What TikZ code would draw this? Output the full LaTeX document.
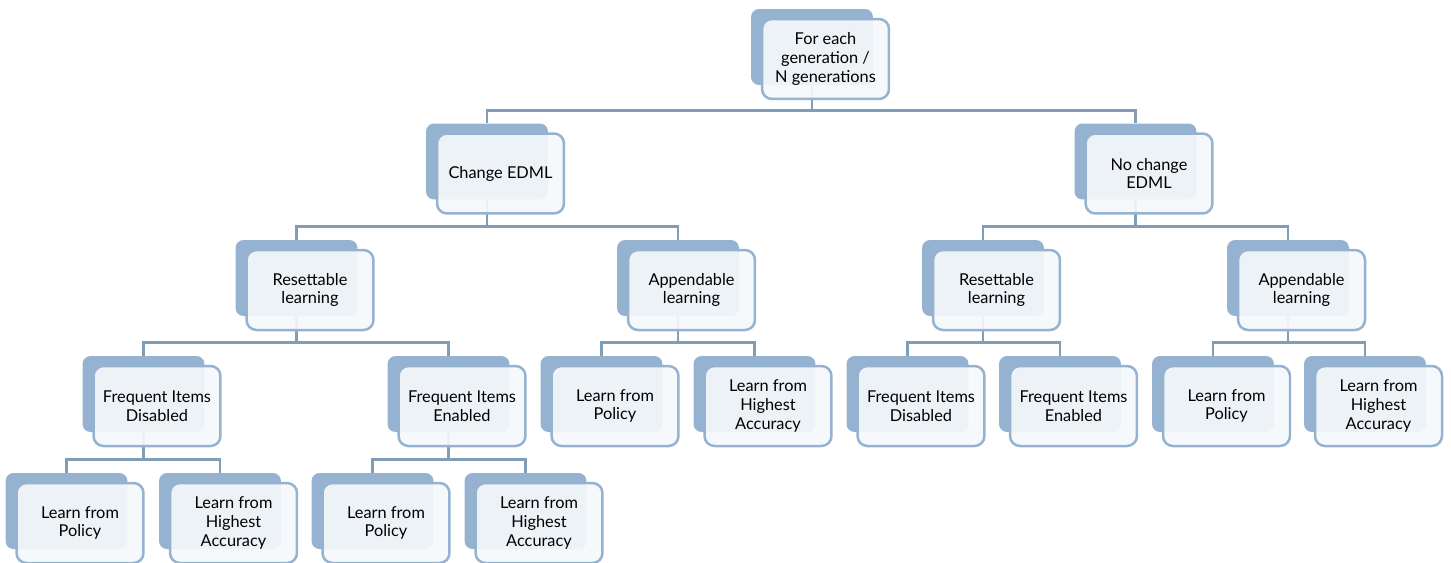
\documentclass[tikz,border=0pt]{standalone}
\usepackage{fontspec}
\setmainfont{Lato}
\pgfdeclarelayer{bg}
\pgfsetlayers{bg,main}
\definecolor{boxblue}{HTML}{95B3D1}
\definecolor{linkblue}{HTML}{819DB8}
\definecolor{paper}{HTML}{F5F8FB}
\tikzset{
  backbox/.style={fill=boxblue, draw=none, rounded corners=0.16cm,
    minimum width=2.44cm, minimum height=1.52cm, inner sep=0pt},
  frontbox/.style={draw=boxblue, line width=0.05cm, fill=paper,
    fill opacity=0.92, text opacity=1, rounded corners=0.2cm,
    minimum width=2.54cm, minimum height=1.6cm, inner sep=0pt,
    align=center, font=\fontsize{9.3}{10.6}\selectfont},
  link/.style={draw=linkblue, line width=0.055cm},
}
% a stacked box: name, x, y of the front card, text
\newcommand\tnode[4]{%
  \node[backbox] (#1b) at (#2-13.5,#3-12) {};
  \node[frontbox] (#1) at (#2,#3) {#4};
}
% elbow connector between the back cards of two boxes
\newcommand\tlink[2]{%
  \begin{pgfonlayer}{bg}
    \draw[link] (#1b.south) |- ([yshift=0.26cm]#2b.north) -- (#2b.north);
  \end{pgfonlayer}
}
\begin{document}
\begin{tikzpicture}[x=0.02cm,y=-0.02cm]
\useasboundingbox (0,0) rectangle (1451,562);

\tnode{top}{825.5}{59}{For each\\generation /\\N generations}

\tnode{ce}{500.5}{173.5}{Change EDML}
\tnode{nc}{1149}{173.5}{No change\\EDML}

\tnode{ra}{310}{290}{Resettable\\learning}
\tnode{aa}{691.5}{290}{Appendable\\learning}
\tnode{rb}{996.5}{290}{Resettable\\learning}
\tnode{ab}{1301.5}{290}{Appendable\\learning}

\tnode{fda}{157}{406}{Frequent Items\\Disabled}
\tnode{fea}{462}{406}{Frequent Items\\Enabled}
\tnode{pa}{615}{406}{Learn from\\Policy}
\tnode{ha}{768}{406}{Learn from\\Highest\\Accuracy}
\tnode{fdb}{921}{406}{Frequent Items\\Disabled}
\tnode{feb}{1073.5}{406}{Frequent Items\\Enabled}
\tnode{pb}{1226.5}{406}{Learn from\\Policy}
\tnode{hb}{1378.5}{406}{Learn from\\Highest\\Accuracy}

\tnode{pc}{80}{523}{Learn from\\Policy}
\tnode{hc}{233.5}{523}{Learn from\\Highest\\Accuracy}
\tnode{pd}{386}{523}{Learn from\\Policy}
\tnode{hd}{539}{523}{Learn from\\Highest\\Accuracy}

\tlink{top}{ce}\tlink{top}{nc}
\tlink{ce}{ra}\tlink{ce}{aa}
\tlink{nc}{rb}\tlink{nc}{ab}
\tlink{ra}{fda}\tlink{ra}{fea}
\tlink{aa}{pa}\tlink{aa}{ha}
\tlink{rb}{fdb}\tlink{rb}{feb}
\tlink{ab}{pb}\tlink{ab}{hb}
\tlink{fda}{pc}\tlink{fda}{hc}
\tlink{fea}{pd}\tlink{fea}{hd}
\end{tikzpicture}
\end{document}
